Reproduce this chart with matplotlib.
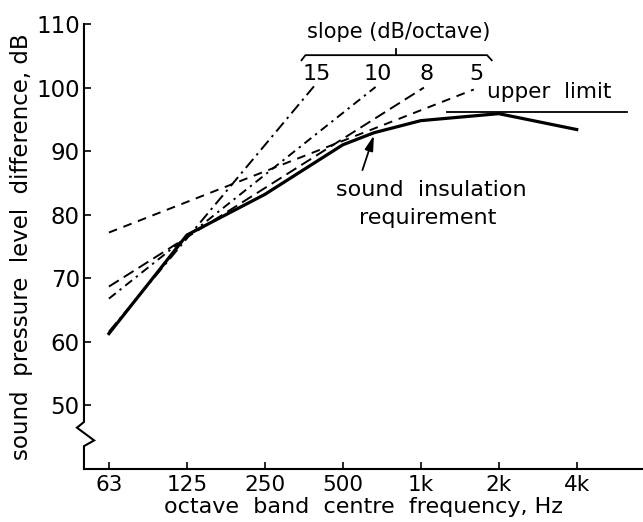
import matplotlib
matplotlib.use('Agg')

import matplotlib.pyplot as plt

# octave band positions (index 0 = 63 Hz)
band_labels = ['63', '125', '250', '500', '1k', '2k', '4k']
band_pos = [0, 1, 2, 3, 4, 5, 6]

# sound insulation requirement (solid curve)
req_x = [0, 1, 2, 3, 3.4, 4, 5, 6]
req_y = [61.3, 76.8, 83.2, 91.0, 92.9, 94.8, 95.9, 93.4]

# constant-slope lines, start at 63 Hz and end below their label
slopes = ['15', '10', '8', '5']
slope_x0 = [0, 0, 0, 0]
slope_y0 = [61.6, 66.8, 68.7, 77.2]
slope_x1 = [2.63, 3.42, 4.04, 4.68]
slope_y1 = [100.2, 100.1, 100.0, 99.7]
slope_dash = [(0, (6, 2.5, 1.2, 2.5)), (0, (4.5, 2.5, 1.2, 2.5)),
              (0, (6, 3)), (0, (4.5, 3.5))]

# upper limit
limit_x = [4.33, 6.65]
limit_y = [96.2, 96.2]

fig = plt.figure(figsize=(6.43, 5.22), dpi=100)
ax = fig.add_axes([0.1306, 0.1015, 0.8694, 0.8525])

ax.plot(req_x, req_y, color='black', linewidth=2.3, solid_joinstyle='round')
for i in range(len(slopes)):
    ax.plot([slope_x0[i], slope_x1[i]], [slope_y0[i], slope_y1[i]],
            color='black', linewidth=1.4, linestyle=slope_dash[i])
    ax.text(slope_x1[i] + 0.03, 102.2, slopes[i], fontsize=16,
            ha='center', va='center')
ax.plot(limit_x, limit_y, color='black', linewidth=1.3)

# bracket over the slope numbers
ax.plot([2.47, 2.52, 3.68, 4.85, 4.91], [104.3, 105.1, 105.1, 105.1, 104.3],
        color='black', linewidth=1.3)
ax.plot([3.68, 3.68], [105.1, 106.0], color='black', linewidth=1.3)
ax.text(3.72, 108.7, 'slope (dB/octave)', fontsize=15, ha='center', va='center')
ax.text(5.65, 99.3, 'upper  limit', fontsize=15.5, ha='center', va='center')

ax.annotate('', xy=(3.41, 92.9), xytext=(3.24, 86.6),
            arrowprops=dict(arrowstyle='-|>,head_length=0.9,head_width=0.25',
                            color='black', linewidth=1.3))
ax.text(4.14, 83.9, 'sound  insulation', fontsize=16, ha='center', va='center')
ax.text(4.09, 79.5, 'requirement', fontsize=16, ha='center', va='center')

ax.set_xlim(-0.32, 6.85)
ax.set_ylim(40, 110)
ax.set_xticks(band_pos)
ax.set_xticklabels(band_labels)
ax.set_yticks([50, 60, 70, 80, 90, 100, 110])
ax.tick_params(direction='in', length=5, width=1.2)
ax.tick_params(axis='x', pad=4.5, labelsize=15.5)
ax.tick_params(axis='y', pad=3, labelsize=16.5)
for s in ['top', 'right', 'left']:
    ax.spines[s].set_visible(False)
ax.spines['bottom'].set_linewidth(1.5)

# left axis with a break near the bottom
brk_x = [-0.32, -0.32, -0.41, -0.19, -0.32, -0.32]
brk_y = [110, 47.4, 46.5, 44.5, 43.6, 40]
ax.plot(brk_x, brk_y, color='black', linewidth=1.5, clip_on=False,
        solid_joinstyle='miter')

ax.set_xlabel('octave  band  centre  frequency, Hz', fontsize=16, labelpad=1.5)
ax.set_ylabel('sound  pressure  level  difference, dB', fontsize=16.5, labelpad=2)

fig.savefig('out.png', dpi=100)
